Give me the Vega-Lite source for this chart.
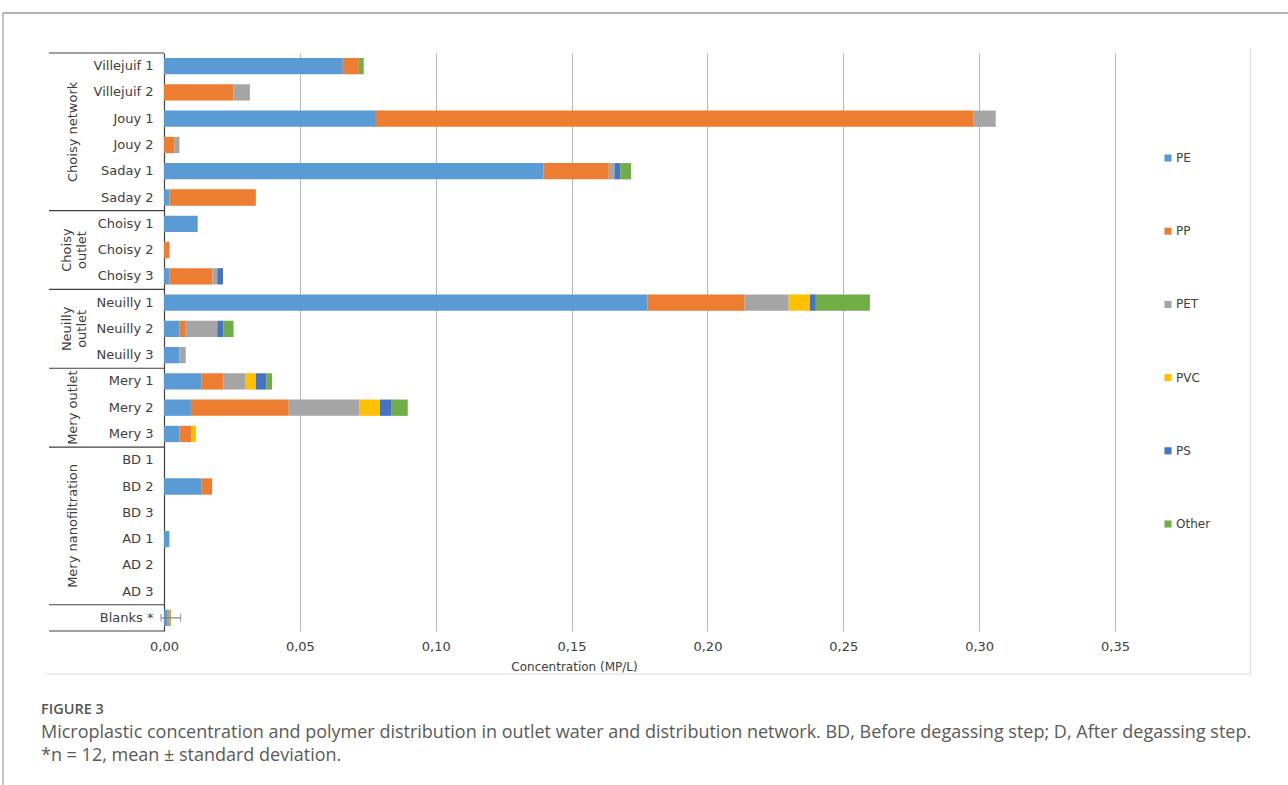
{
  "$schema": "https://vega.github.io/schema/vega-lite/v6.json",
  "width": 951,
  "height": 578,
  "autosize": {"type": "none"},
  "padding": {"left": 164, "top": 53, "right": 173, "bottom": 154},
  "background": "white",
  "config": {"view": {"stroke": null}, "font": "DejaVu Sans"},
  "datasets": {
    "polymers": [
      {"polymer": "PE", "rank": 1}, {"polymer": "PP", "rank": 2}, {"polymer": "PET", "rank": 3},
      {"polymer": "PVC", "rank": 4}, {"polymer": "PS", "rank": 5}, {"polymer": "Other", "rank": 6}
    ],
    "bars": [
      {"sample": "Villejuif 1", "polymer": "PE", "value": 0.0658},
      {"sample": "Villejuif 1", "polymer": "PP", "value": 0.0059},
      {"sample": "Villejuif 1", "polymer": "Other", "value": 0.0018},
      {"sample": "Villejuif 2", "polymer": "PP", "value": 0.0256},
      {"sample": "Villejuif 2", "polymer": "PET", "value": 0.006},
      {"sample": "Jouy 1", "polymer": "PE", "value": 0.078},
      {"sample": "Jouy 1", "polymer": "PP", "value": 0.22},
      {"sample": "Jouy 1", "polymer": "PET", "value": 0.0081},
      {"sample": "Jouy 2", "polymer": "PP", "value": 0.0039},
      {"sample": "Jouy 2", "polymer": "PET", "value": 0.0018},
      {"sample": "Saday 1", "polymer": "PE", "value": 0.1397},
      {"sample": "Saday 1", "polymer": "PP", "value": 0.024},
      {"sample": "Saday 1", "polymer": "PET", "value": 0.0021},
      {"sample": "Saday 1", "polymer": "PS", "value": 0.0021},
      {"sample": "Saday 1", "polymer": "Other", "value": 0.004},
      {"sample": "Saday 2", "polymer": "PE", "value": 0.002},
      {"sample": "Saday 2", "polymer": "PP", "value": 0.0318},
      {"sample": "Choisy 1", "polymer": "PE", "value": 0.0124},
      {"sample": "Choisy 2", "polymer": "PP", "value": 0.002},
      {"sample": "Choisy 3", "polymer": "PE", "value": 0.002},
      {"sample": "Choisy 3", "polymer": "PP", "value": 0.0158},
      {"sample": "Choisy 3", "polymer": "PET", "value": 0.0018},
      {"sample": "Choisy 3", "polymer": "PS", "value": 0.0021},
      {"sample": "Neuilly 1", "polymer": "PE", "value": 0.178},
      {"sample": "Neuilly 1", "polymer": "PP", "value": 0.0357},
      {"sample": "Neuilly 1", "polymer": "PET", "value": 0.0162},
      {"sample": "Neuilly 1", "polymer": "PVC", "value": 0.0078},
      {"sample": "Neuilly 1", "polymer": "PS", "value": 0.0022},
      {"sample": "Neuilly 1", "polymer": "Other", "value": 0.0199},
      {"sample": "Neuilly 2", "polymer": "PE", "value": 0.0057},
      {"sample": "Neuilly 2", "polymer": "PP", "value": 0.0023},
      {"sample": "Neuilly 2", "polymer": "PET", "value": 0.0116},
      {"sample": "Neuilly 2", "polymer": "PS", "value": 0.0022},
      {"sample": "Neuilly 2", "polymer": "Other", "value": 0.0038},
      {"sample": "Neuilly 3", "polymer": "PE", "value": 0.0057},
      {"sample": "Neuilly 3", "polymer": "PET", "value": 0.0023},
      {"sample": "Mery 1", "polymer": "PE", "value": 0.0137},
      {"sample": "Mery 1", "polymer": "PP", "value": 0.0081},
      {"sample": "Mery 1", "polymer": "PET", "value": 0.008},
      {"sample": "Mery 1", "polymer": "PVC", "value": 0.004},
      {"sample": "Mery 1", "polymer": "PS", "value": 0.0039},
      {"sample": "Mery 1", "polymer": "Other", "value": 0.0021},
      {"sample": "Mery 2", "polymer": "PE", "value": 0.0099},
      {"sample": "Mery 2", "polymer": "PP", "value": 0.036},
      {"sample": "Mery 2", "polymer": "PET", "value": 0.0259},
      {"sample": "Mery 2", "polymer": "PVC", "value": 0.0077},
      {"sample": "Mery 2", "polymer": "PS", "value": 0.0043},
      {"sample": "Mery 2", "polymer": "Other", "value": 0.0059},
      {"sample": "Mery 3", "polymer": "PE", "value": 0.0057},
      {"sample": "Mery 3", "polymer": "PP", "value": 0.0043},
      {"sample": "Mery 3", "polymer": "PVC", "value": 0.0018},
      {"sample": "BD 2", "polymer": "PE", "value": 0.0137},
      {"sample": "BD 2", "polymer": "PP", "value": 0.004},
      {"sample": "AD 1", "polymer": "PE", "value": 0.002},
      {"sample": "Blanks *", "polymer": "PE", "value": 0.0012},
      {"sample": "Blanks *", "polymer": "PP", "value": 0.0006},
      {"sample": "Blanks *", "polymer": "PET", "value": 0.0003},
      {"sample": "Blanks *", "polymer": "Other", "value": 0.0004}
    ],
    "err": [{"sample": "Blanks *", "lo": -0.0011, "hi": 0.0061}],
    "bounds": [{"b": 0}, {"b": 6}, {"b": 9}, {"b": 12}, {"b": 15}, {"b": 21}, {"b": 22}],
    "groups1": [{"g": "Choisy network", "mid": 3}, {"g": "Mery outlet", "mid": 13.5}, {"g": "Mery nanofiltration", "mid": 18}],
    "groups2": [{"g": "Choisy\noutlet", "mid": 7.5}, {"g": "Neuilly\noutlet", "mid": 10.5}]
  },
  "layer": [
    {
      "layer": [
        {
          "data": {"name": "bars"},
          "transform": [
            {"lookup": "polymer", "from": {"data": {"name": "polymers"}, "key": "polymer", "fields": ["rank"]}}
          ],
          "mark": {"type": "bar"},
          "encoding": {
            "y": {
              "field": "sample", "type": "nominal",
              "scale": {
                "domain": ["Villejuif 1", "Villejuif 2", "Jouy 1", "Jouy 2", "Saday 1", "Saday 2", "Choisy 1", "Choisy 2", "Choisy 3", "Neuilly 1", "Neuilly 2", "Neuilly 3", "Mery 1", "Mery 2", "Mery 3", "BD 1", "BD 2", "BD 3", "AD 1", "AD 2", "AD 3", "Blanks *"],
                "paddingInner": 0.38, "paddingOuter": 0.19
              },
              "axis": {"title": null, "ticks": false, "labelPadding": 11, "labelFontSize": 13, "labelColor": "#404040", "labelFont": "DejaVu Sans", "domainColor": "#404040", "domainWidth": 1.2}
            },
            "x": {
              "field": "value", "type": "quantitative", "stack": "zero",
              "scale": {"domain": [0, 0.35], "nice": false},
              "axis": {
                "title": "Concentration (MP/L)",
                "values": [0, 0.05, 0.1, 0.15, 0.2, 0.25, 0.3, 0.35],
                "labelExpr": "replace(format(datum.value, '.2f'), '.', ',')",
                "grid": true, "gridColor": "#b8b8b8", "gridWidth": 1,
                "domain": false, "ticks": false, "labelPadding": 9, "labelFlush": false,
                "labelFontSize": 13, "labelColor": "#404040", "labelFont": "DejaVu Sans",
                "titleFont": "DejaVu Sans", "titleFontSize": 12, "titleFontWeight": "normal", "titleColor": "#404040",
                "titleX": 410, "titleY": 35, "titleBaseline": "middle", "titleAlign": "center"
              }
            },
            "order": {"field": "rank", "type": "quantitative"},
            "color": {
              "field": "polymer", "type": "nominal",
              "sort": ["PE", "PP", "PET", "PVC", "PS", "Other"],
              "scale": {"domain": ["PE", "PP", "PET", "PVC", "PS", "Other"], "range": ["#5B9BD5", "#ED7D31", "#A5A5A5", "#FFC000", "#4472C4", "#70AD47"]},
              "legend": {"title": null, "orient": "none", "legendX": 998, "legendY": 99, "symbolType": "square", "symbolSize": 50, "labelFontSize": 12, "labelFont": "DejaVu Sans", "labelColor": "#404040", "rowPadding": 61.2, "labelOffset": 2, "padding": 0}
            }
          }
        },
        {
          "data": {"name": "err"},
          "mark": {"type": "rule", "color": "#808080", "strokeWidth": 1.2},
          "encoding": {
            "y": {"field": "sample", "type": "nominal"},
            "x": {"field": "lo", "type": "quantitative"},
            "x2": {"field": "hi"}
          }
        },
        {
          "data": {"name": "err"},
          "mark": {"type": "tick", "color": "#808080", "size": 8, "thickness": 1.2},
          "encoding": {
            "y": {"field": "sample", "type": "nominal"},
            "x": {"field": "lo", "type": "quantitative"}
          }
        },
        {
          "data": {"name": "err"},
          "mark": {"type": "tick", "color": "#808080", "size": 8, "thickness": 1.2},
          "encoding": {
            "y": {"field": "sample", "type": "nominal"},
            "x": {"field": "hi", "type": "quantitative"}
          }
        }
      ]
    },
    {
      "layer": [
        {
          "data": {"name": "bounds"},
          "mark": {"type": "rule", "color": "#404040", "strokeWidth": 1.2},
          "encoding": {
            "y": {"field": "b", "type": "quantitative", "scale": {"domain": [0, 22], "reverse": true, "nice": false, "zero": false}, "axis": null},
            "x": {"datum": -0.04232, "type": "quantitative"},
            "x2": {"datum": 0}
          }
        },
        {
          "data": {"name": "groups1"},
          "mark": {"type": "text", "angle": 270, "fontSize": 13, "font": "DejaVu Sans", "color": "#404040", "align": "center", "baseline": "middle"},
          "encoding": {
            "y": {"field": "mid", "type": "quantitative", "axis": null},
            "x": {"datum": -0.03349, "type": "quantitative"},
            "text": {"field": "g"}
          }
        },
        {
          "data": {"name": "groups2"},
          "mark": {"type": "text", "angle": 270, "fontSize": 13, "font": "DejaVu Sans", "color": "#404040", "align": "center", "baseline": "middle", "lineBreak": "\n", "lineHeight": 15},
          "encoding": {
            "y": {"field": "mid", "type": "quantitative", "axis": null},
            "x": {"datum": -0.03588, "type": "quantitative"},
            "text": {"field": "g"}
          }
        },
        {
          "data": {"values": [{}]},
          "mark": {"type": "rule", "color": "#9a9a9a", "strokeWidth": 1.5},
          "encoding": {
            "y": {"datum": -1.5225, "type": "quantitative", "axis": null},
            "x": {"datum": -0.05925, "type": "quantitative"},
            "x2": {"datum": 0.4136}
          }
        },
        {
          "data": {"values": [{}]},
          "mark": {"type": "rule", "color": "#9a9a9a", "strokeWidth": 1.2},
          "encoding": {
            "x": {"datum": -0.05925, "type": "quantitative"},
            "y": {"datum": -1.5225, "type": "quantitative", "axis": null},
            "y2": {"datum": 27.861}
          }
        },
        {
          "data": {"values": [{}]},
          "mark": {"type": "rule", "color": "#d9d9d9", "strokeWidth": 1},
          "encoding": {
            "y": {"datum": 23.637, "type": "quantitative", "axis": null},
            "x": {"datum": -0.04306, "type": "quantitative"},
            "x2": {"datum": 0.39994}
          }
        },
        {
          "data": {"values": [{}]},
          "mark": {"type": "rule", "color": "#d9d9d9", "strokeWidth": 1},
          "encoding": {
            "x": {"datum": 0.39994, "type": "quantitative"},
            "y": {"datum": -0.1903, "type": "quantitative", "axis": null},
            "y2": {"datum": 23.637}
          }
        },
        {
          "data": {"values": [{"t": "FIGURE 3"}]},
          "mark": {"type": "text", "font": "Open Sans", "fontSize": 14.5, "fontWeight": 600, "color": "#555555", "align": "left", "baseline": "middle"},
          "encoding": {
            "x": {"datum": -0.04527, "type": "quantitative"},
            "y": {"datum": 25.007, "type": "quantitative", "axis": null},
            "text": {"field": "t"}
          }
        },
        {
          "data": {"values": [{"t": "Microplastic concentration and polymer distribution in outlet water and distribution network. BD, Before degassing step; D, After degassing step.\n*n = 12, mean ± standard deviation."}]},
          "mark": {"type": "text", "font": "Open Sans", "fontSize": 18, "color": "#5a5a5a", "align": "left", "baseline": "middle", "lineBreak": "\n", "lineHeight": 23},
          "encoding": {
            "x": {"datum": -0.04527, "type": "quantitative"},
            "y": {"datum": 25.882, "type": "quantitative", "axis": null},
            "text": {"field": "t"}
          }
        }
      ]
    }
  ],
  "resolve": {"scale": {"y": "independent"}}
}
